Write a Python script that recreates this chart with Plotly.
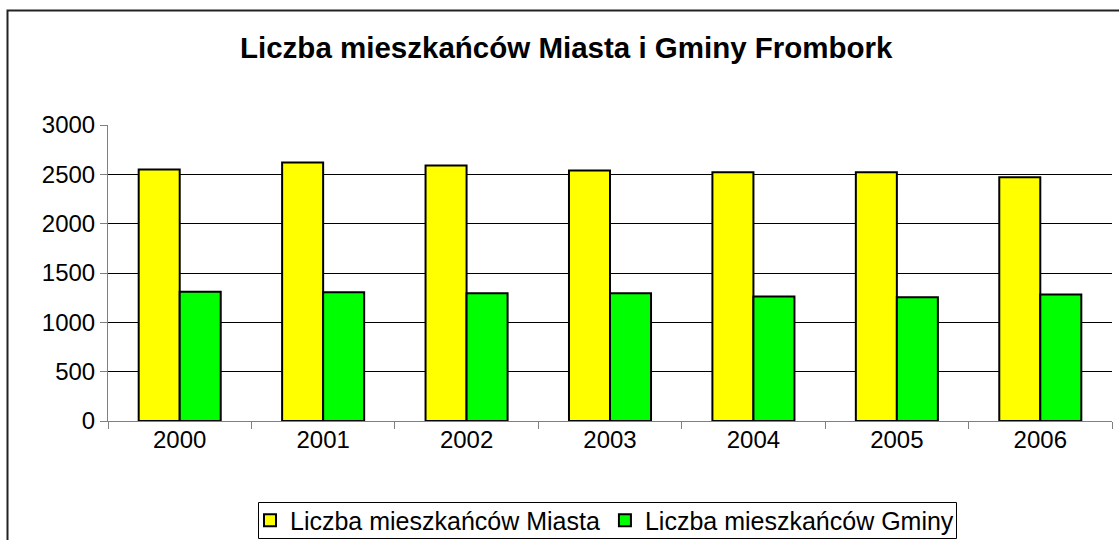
import plotly.graph_objects as go

years = ["2000", "2001", "2002", "2003", "2004", "2005", "2006"]
miasto = [2550, 2620, 2590, 2540, 2520, 2520, 2470]
gmina = [1310, 1305, 1295, 1295, 1262, 1255, 1282]
series_names = ["Liczba mieszkańców Miasta", "Liczba mieszkańców Gminy"]
title_text = "Liczba mieszkańców Miasta i Gminy Frombork"
y_ticks = [0, 500, 1000, 1500, 2000, 2500, 3000]

FONT = "Liberation Sans, Arial, sans-serif"
W, H = 1119, 540
PL, PR, PT, PB = 108, 1112, 125, 421   # plot area in pixels


def px(x):
    return (x - PL) / (PR - PL)


def py(y):
    return (PB - y) / (PB - PT)


fig = go.Figure()
fig.add_trace(go.Bar(x=years, y=miasto, name=series_names[0],
                     marker=dict(color="#FFFF00", line=dict(color="black", width=2))))
fig.add_trace(go.Bar(x=years, y=gmina, name=series_names[1],
                     marker=dict(color="#00FF00", line=dict(color="black", width=2))))

fig.update_layout(
    width=W, height=H,
    margin=dict(l=PL, r=W - PR, t=PT, b=H - PB),
    paper_bgcolor="white", plot_bgcolor="white",
    barmode="group", bargap=0.428, bargroupgap=0,
    font=dict(family=FONT, size=24, color="black"),
    title=dict(text="<b>" + title_text + "</b>", x=240 / W, xref="container",
               xanchor="left", y=1 - 48 / H, yref="container", yanchor="middle",
               font=dict(family=FONT, size=29.5, color="black")),
    showlegend=True,
    legend=dict(orientation="h", x=px(250), xanchor="left",
                yref="container", y=1 - 497.5 / H, yanchor="top",
                borderwidth=0, bgcolor="rgba(0,0,0,0)",
                font=dict(family=FONT, size=25, color="black"),
                itemwidth=30, traceorder="normal"),
    xaxis=dict(type="category", showline=True, linecolor="#808080", linewidth=1,
               ticks="outside", ticklen=7, tickcolor="#808080", tickson="boundaries",
               showgrid=False, tickfont=dict(size=24), fixedrange=True,
               ticklabelstandoff=-3),
    yaxis=dict(range=[0, 3000], tickvals=y_ticks, showline=True, linecolor="#808080",
               linewidth=1, ticks="outside", ticklen=7, tickcolor="#808080",
               showgrid=True, gridcolor="black", gridwidth=1, zeroline=False,
               tickfont=dict(size=24), fixedrange=True),
    shapes=[
        dict(type="rect", xref="paper", yref="paper",
             x0=px(7.5), x1=1.2, y0=-0.6, y1=py(10.5),
             line=dict(color="#222222", width=2), fillcolor="rgba(0,0,0,0)",
             layer="below"),
        dict(type="rect", xref="paper", yref="paper",
             x0=px(258.5), x1=px(956.5), y0=py(538.5), y1=py(502.5),
             line=dict(color="black", width=1), fillcolor="white",
             layer="below"),
    ],
)

fig.write_html("out.html", config={"displayModeBar": False},
               post_script="document.body.style.margin='0';document.body.style.overflow='hidden';")
